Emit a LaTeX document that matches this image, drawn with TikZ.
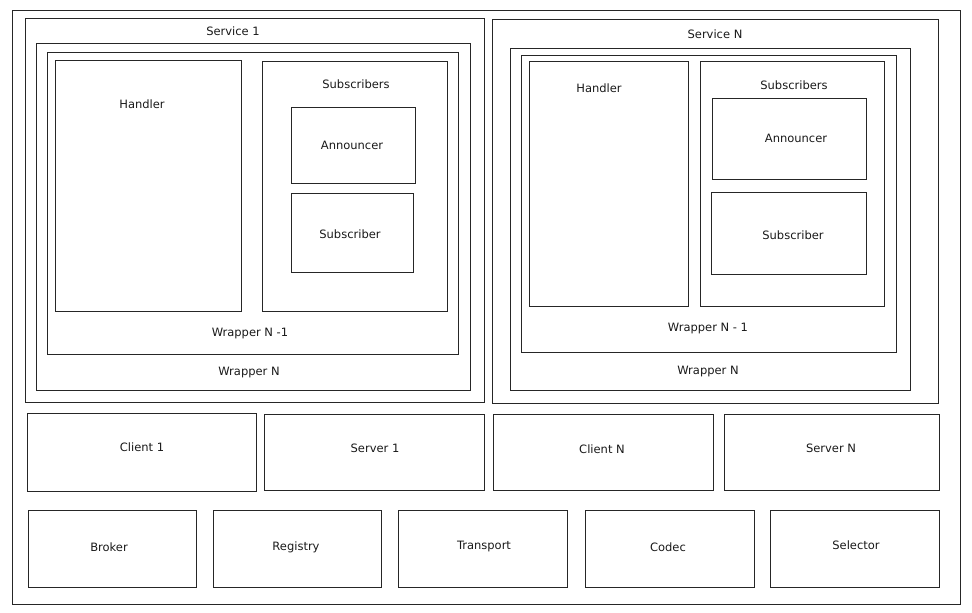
\documentclass[tikz,border=0pt]{standalone}
\usepackage{fontspec}
\setmainfont{DejaVu Sans}
\begin{document}
\begin{tikzpicture}[x=1pt,y=-1pt,
  box/.style={draw=black!85,line width=0.9pt,inner sep=0pt,outer sep=0pt,anchor=north west,fill=none},
  lbl/.style={font=\fontsize{11.5}{13}\selectfont,inner sep=0pt,text height=8.4pt,text depth=0pt,text=black!90}]
\useasboundingbox (0,0) rectangle (972,613);
\newcommand{\bx}[5]{\node[box,minimum width={(#4-#2)*1pt},minimum height={(#5-#3)*1pt}] (#1) at (#2,#3) {};}
% outer
\bx{outer}{12}{10}{960}{604}
% Service 1
\bx{svc1}{25}{18}{484}{402}
\bx{wn1}{36}{43}{470}{390}
\bx{wm1}{47}{52}{458}{354}
\bx{h1}{55}{60}{241}{311}
\bx{subs1}{262}{61}{447}{311}
\bx{ann1}{291}{107}{415}{183}
\bx{sub1}{291}{193}{413}{272}
\node[lbl] (svc1l) at (233,31) {Service 1};
\node[lbl] (wn1l) at (249,371) {Wrapper N};
\node[lbl] (wm1l) at (250,332) {Wrapper N -1};
\node[lbl] (h1l) at (142,104) {Handler};
\node[lbl] (subs1l) at (356,84) {Subscribers};
\node[lbl] (ann1l) at (352,145) {Announcer};
\node[lbl] (sub1l) at (350,234) {Subscriber};
% Service N
\bx{svcN}{492}{19}{938}{403}
\bx{wnN}{510}{48}{910}{390}
\bx{wmN}{521}{55}{896}{352}
\bx{hN}{529}{61}{688}{306}
\bx{subsN}{700}{61}{884}{306}
\bx{annN}{712}{98}{866}{179}
\bx{subN}{711}{192}{866}{274}
\node[lbl] (svcNl) at (715,34) {Service N};
\node[lbl] (wnNl) at (708,370) {Wrapper N};
\node[lbl] (wmNl) at (708,327) {Wrapper N - 1};
\node[lbl] (hNl) at (599,88) {Handler};
\node[lbl] (subsNl) at (794,85) {Subscribers};
\node[lbl] (annNl) at (796,138) {Announcer};
\node[lbl] (subNl) at (793,235) {Subscriber};
% clients / servers
\bx{c1}{27}{413}{256}{491}
\bx{s1}{264}{414}{484}{490}
\bx{cN}{493}{414}{713}{490}
\bx{sN}{724}{414}{939}{490}
\node[lbl] (c1l) at (142,447) {Client 1};
\node[lbl] (s1l) at (375,448) {Server 1};
\node[lbl] (cNl) at (602,449) {Client N};
\node[lbl] (sNl) at (831,448) {Server N};
% bottom row
\bx{broker}{28}{510}{196}{587}
\bx{registry}{213}{510}{381}{587}
\bx{transport}{398}{510}{567}{587}
\bx{codec}{585}{510}{754}{587}
\bx{selector}{770}{510}{939}{587}
\node[lbl] (brokerl) at (109,547) {Broker};
\node[lbl] (registryl) at (296,546) {Registry};
\node[lbl] (transportl) at (484,545) {Transport};
\node[lbl] (codecl) at (668,547) {Codec};
\node[lbl] (selectorl) at (856,545) {Selector};
\end{tikzpicture}
\end{document}
